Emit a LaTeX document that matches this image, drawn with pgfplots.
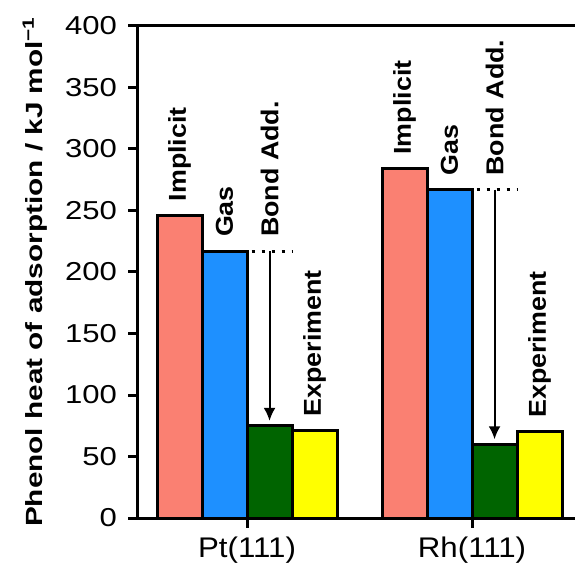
\documentclass[border=0pt]{standalone}
\usepackage{pgfplots}
\pgfplotsset{compat=1.18}
\usepackage{fontspec}
\setmainfont{Liberation Sans}
\usetikzlibrary{arrows.meta}
\definecolor{implicit}{RGB}{250,128,114}
\definecolor{gas}{RGB}{30,144,255}
\definecolor{bond}{RGB}{0,100,0}
\definecolor{expt}{RGB}{255,255,0}
\tikzset{barlab/.style={rotate=90, anchor=west, inner sep=0pt,
  font=\bfseries\fontsize{24.5}{24.5}\selectfont\addfontfeature{FakeStretch=1.1}}}

\begin{document}
\begin{tikzpicture}
\path[use as bounding box] (-137.7bp,-47bp) rectangle (437.3bp,518bp);
\begin{axis}[
  scale only axis, width=437.3bp, height=492bp,
  xmin=-0.486, xmax=1.4576, ymin=0, ymax=400,
  axis lines=left, axis line style={-, line width=3bp, black},
  ytick={0,50,...,400}, xtick={0,1}, xticklabels={Pt(111),Rh(111)},
  tick align=outside, major tick length=9.5bp,
  tick style={line width=3bp, black},
  ybar, bar width=0.2,
  clip=false,
  /pgf/number format/assume math mode=true,
  yticklabel style={font=\fontsize{26}{26}\selectfont\addfontfeature{FakeStretch=1.2},
    inner sep=0pt, xshift=-11bp},
  xticklabel style={font=\fontsize{28.5}{28.5}\selectfont\addfontfeature{FakeStretch=1.1},
    inner sep=0pt, yshift=-9bp},
  ylabel={Phenol heat of adsorption / kJ mol\textsuperscript{−1}},
  every axis y label/.style={at={(axis description cs:-0.2166,0.5)}, rotate=90, anchor=base,
    font=\bfseries\fontsize{23.5}{23.5}\selectfont\addfontfeature{FakeStretch=1.27}},
]
\addplot[fill=implicit, draw=black, line width=3bp, bar shift=-0.3] coordinates {(0,246) (1,284)};
\addplot[fill=gas, draw=black, line width=3bp, bar shift=-0.1] coordinates {(0,217) (1,267)};
\addplot[fill=bond, draw=black, line width=3bp, bar shift=0.1] coordinates {(0,75) (1,60)};
\addplot[fill=expt, draw=black, line width=3bp, bar shift=0.3] coordinates {(0,71) (1,70)};

% bond-additivity correction: dotted level of the gas value and arrow down
\addplot[sharp plot, draw=black, line width=3bp, dash pattern=on 3bp off 7bp, forget plot]
  coordinates {(0.02,217) (0.2,217)};
\addplot[sharp plot, draw=black, line width=3bp, dash pattern=on 3bp off 7bp, forget plot]
  coordinates {(1.02,267) (1.2,267)};
\draw[line width=2bp, -{Latex[length=13bp,width=12bp]}] (axis cs:0.1,217) -- (axis cs:0.1,79);
\draw[line width=2bp, -{Latex[length=13bp,width=12bp]}] (axis cs:1.1,267) -- (axis cs:1.1,64);

\draw[line width=3bp] (rel axis cs:0,1) -- (rel axis cs:1,1);

\node[barlab] at ([yshift=14bp]axis cs:-0.3,246) {Implicit};
\node[barlab] at ([yshift=14bp]axis cs:-0.1,217) {Gas};
\node[barlab] at ([yshift=14bp]axis cs:0.1,217) {Bond Add.};
\node[barlab] at ([yshift=14bp]axis cs:0.3,71) {Experiment};
\node[barlab] at ([yshift=14bp]axis cs:0.7,284) {Implicit};
\node[barlab] at ([yshift=14bp]axis cs:0.9,267) {Gas};
\node[barlab] at ([yshift=14bp]axis cs:1.1,267) {Bond Add.};
\node[barlab] at ([yshift=14bp]axis cs:1.3,70) {Experiment};
\end{axis}
\end{tikzpicture}
\end{document}
